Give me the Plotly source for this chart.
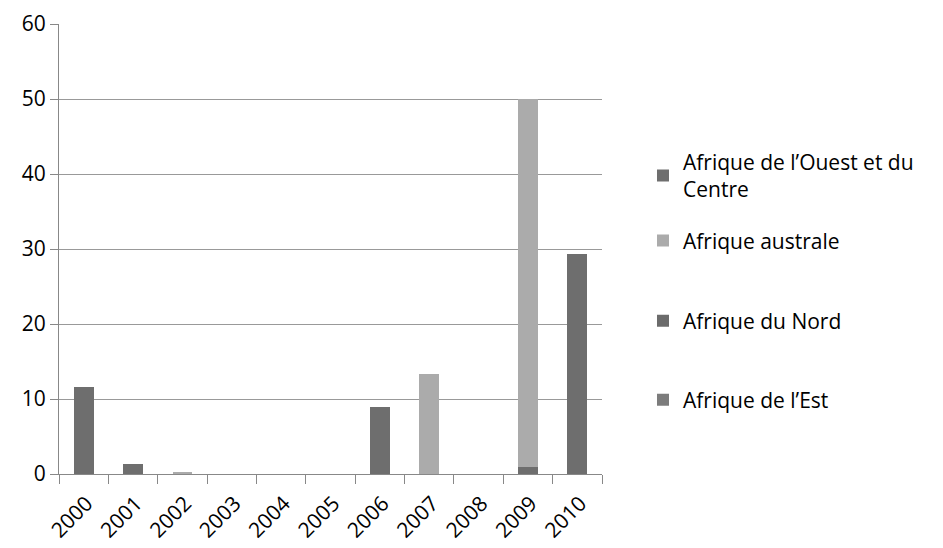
import plotly.graph_objects as go

years = ["2000", "2001", "2002", "2003", "2004", "2005",
         "2006", "2007", "2008", "2009", "2010"]

ouest_centre = [11.6, 1.4, 0, 0, 0, 0, 9.0, 0, 0, 1.0, 29.3]
australe = [0, 0, 0.2, 0, 0, 0, 0, 13.3, 0, 49.0, 0]
nord = [0, 0, 0, 0, 0, 0, 0, 0, 0, 0, 0]
est = [0, 0, 0, 0, 0, 0, 0, 0, 0, 0, 0]

series_names = ["Afrique de l’Ouest et du<br>Centre", "Afrique australe",
                "Afrique du Nord", "Afrique de l’Est"]
series_values = [ouest_centre, australe, nord, est]
series_colors = ["#6e6e6e", "#ababab", "#6b6b6b", "#7c7c7c"]

y_ticks = [0, 10, 20, 30, 40, 50, 60]

FONT = "Open Sans"
SIZE = 21

# one legend box per series so each entry sits at its own height
legend_ids = ["legend", "legend2", "legend3", "legend4"]
legend_y = [0.663, 0.518, 0.340, 0.164]

fig = go.Figure()
for name, vals, col, lid in zip(series_names, series_values, series_colors, legend_ids):
    fig.add_trace(go.Bar(
        x=years, y=vals, name=name,
        marker=dict(color=col, line=dict(width=0)),
        legend=lid,
    ))

legend_layout = {}
for lid, ly in zip(legend_ids, legend_y):
    legend_layout[lid] = dict(
        x=1.0755, xanchor="left", xref="paper",
        y=ly, yanchor="middle",
        font=dict(family=FONT, size=SIZE, color="#000000"),
        bgcolor="rgba(0,0,0,0)",
    )

fig.update_layout(
    barmode="stack",
    bargap=0.6,
    width=943, height=548,
    margin=dict(l=59, r=341, t=24, b=74),
    paper_bgcolor="white",
    plot_bgcolor="white",
    font=dict(family=FONT, size=SIZE, color="#000000"),
    showlegend=True,
    xaxis=dict(
        type="category",
        tickangle=-45,
        tickson="boundaries",
        ticks="outside", ticklen=9, tickcolor="#888888", tickwidth=1,
        showline=True, linecolor="#888888", linewidth=1,
        showgrid=False,
        automargin=False,
        ticklabelstandoff=8,
        ticklabelshift=3,
        tickfont=dict(family=FONT, size=SIZE, color="#000000"),
    ),
    yaxis=dict(
        range=[0, 60],
        tickvals=y_ticks,
        ticks="outside", ticklen=8, tickcolor="#888888", tickwidth=1,
        showline=True, linecolor="#888888", linewidth=1,
        showgrid=True, gridcolor="#999999", gridwidth=1,
        zeroline=False,
        automargin=False,
        tickfont=dict(family=FONT, size=SIZE, color="#000000"),
    ),
    **legend_layout,
)

fig.write_html("out.html")
